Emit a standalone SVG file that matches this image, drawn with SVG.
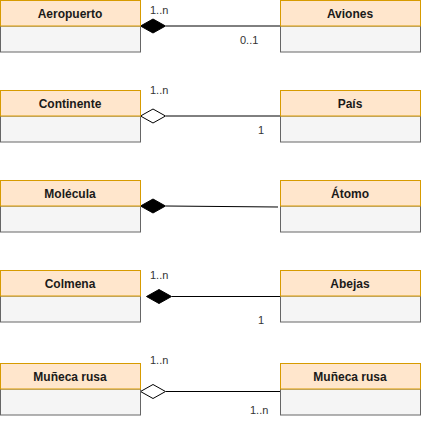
<svg xmlns="http://www.w3.org/2000/svg" width="421" height="421" viewBox="0 0 421 421">
<style>
.hd{fill:#ffe6cc;stroke:#d79b00;stroke-width:1}
.bd{fill:#f5f5f5;stroke:#666666;stroke-width:1}
.nm{font-family:"Liberation Sans",Arial,sans-serif;font-size:12px;font-weight:bold;fill:#1a1a1a;text-anchor:middle}
.lb{font-family:"Liberation Sans",Arial,sans-serif;font-size:11px;fill:#333333}
.ln{stroke:#000;stroke-width:1;fill:none}
.fd{fill:#000;stroke:#000}
.od{fill:#fff;stroke:#000}
</style>
<rect width="421" height="421" fill="#ffffff"/>
<g id="connectors">
<line class="ln" x1="166" y1="26" x2="280" y2="26"/>
<polygon class="fd" points="140.5,26 153,19 165.5,26 153,33"/>
<line class="ln" x1="166" y1="116" x2="280" y2="116"/>
<polygon class="od" points="140.5,116 153,109 165.5,116 153,123"/>
<line class="ln" x1="166" y1="206" x2="278" y2="207"/>
<polygon class="fd" points="140.5,206 153,199 165.5,206 153,213"/>
<line class="ln" x1="172" y1="296.5" x2="280" y2="296.5"/>
<polygon class="fd" points="146.5,296.5 159,289.5 171.5,296.5 159,303.5"/>
<line class="ln" x1="166" y1="391.5" x2="280" y2="391.5"/>
<polygon class="od" points="140.5,391.5 153,384.5 165.5,391.5 153,398.5"/>
<text class="lb" x="150" y="14">1..n</text>
<text class="lb" x="240" y="44">0..1</text>
<text class="lb" x="150" y="94">1..n</text>
<text class="lb" x="258" y="134">1</text>
<text class="lb" x="150" y="279">1..n</text>
<text class="lb" x="258" y="324">1</text>
<text class="lb" x="150" y="364">1..n</text>
<text class="lb" x="250" y="414">1..n</text>
</g>
<g id="aeropuerto"><rect class="bd" x="0.5" y="26" width="140" height="26"/><rect class="hd" x="0.5" y="0.5" width="140" height="25.5"/><text class="nm" x="70" y="17.5">Aeropuerto</text></g>
<g id="aviones"><rect class="bd" x="280.5" y="26" width="140" height="26"/><rect class="hd" x="280.5" y="0.5" width="140" height="25.5"/><text class="nm" x="350" y="17.5">Aviones</text></g>
<g id="continente"><rect class="bd" x="0.5" y="116" width="140" height="26"/><rect class="hd" x="0.5" y="90.5" width="140" height="25.5"/><text class="nm" x="70" y="107.5">Continente</text></g>
<g id="pais"><rect class="bd" x="280.5" y="116" width="140" height="26"/><rect class="hd" x="280.5" y="90.5" width="140" height="25.5"/><text class="nm" x="350" y="107.5">País</text></g>
<g id="molecula"><rect class="bd" x="0.5" y="206" width="140" height="26"/><rect class="hd" x="0.5" y="180.5" width="140" height="25.5"/><text class="nm" x="70" y="197.5">Molécula</text></g>
<g id="atomo"><rect class="bd" x="280.5" y="206" width="140" height="26"/><rect class="hd" x="280.5" y="180.5" width="140" height="25.5"/><text class="nm" x="350" y="197.5">Átomo</text></g>
<g id="colmena"><rect class="bd" x="0.5" y="296" width="140" height="26"/><rect class="hd" x="0.5" y="270.5" width="140" height="25.5"/><text class="nm" x="70" y="287.5">Colmena</text></g>
<g id="abejas"><rect class="bd" x="280.5" y="296" width="140" height="26"/><rect class="hd" x="280.5" y="270.5" width="140" height="25.5"/><text class="nm" x="350" y="287.5">Abejas</text></g>
<g id="muneca1"><rect class="bd" x="0.5" y="389" width="140" height="26"/><rect class="hd" x="0.5" y="363.5" width="140" height="25.5"/><text class="nm" x="70" y="380.5">Muñeca rusa</text></g>
<g id="muneca2"><rect class="bd" x="280.5" y="389" width="140" height="26"/><rect class="hd" x="280.5" y="363.5" width="140" height="25.5"/><text class="nm" x="350" y="380.5">Muñeca rusa</text></g>
</svg>
